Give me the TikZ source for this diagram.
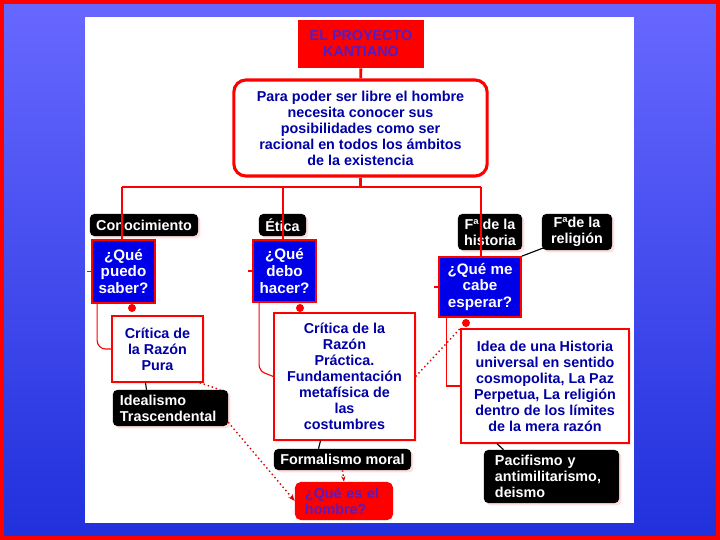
\documentclass[tikz,border=0pt]{standalone}
\usepackage{fontspec}
\setmainfont{Liberation Sans}
\usetikzlibrary{shadows,arrows.meta}

\definecolor{bgtop}{RGB}{104,104,255}
\definecolor{bgbot}{RGB}{32,48,220}
\definecolor{qblue}{RGB}{0,0,232}
\definecolor{kblue}{RGB}{0,0,165}
\definecolor{kpurple}{RGB}{80,30,200}

\begin{document}
\begin{tikzpicture}[x=0.025cm, y=-0.025cm,
  every node/.style={font=\fontsize{10.2}{11.4}\selectfont\bfseries, align=center, inner sep=1pt},
  titlebox/.style={fill=red, text=kpurple, minimum width=3.15cm, minimum height=1.2cm},
  mainbox/.style={draw=red, line width=2.2pt, rounded corners=0.3cm, fill=white, text=kblue,
    minimum width=6.33cm, minimum height=2.4cm},
  tagbox/.style={fill=black, text=white, rounded corners=3pt,
    drop shadow={fill=red!25, shadow xshift=0.06cm, shadow yshift=-0.06cm}},
  askbox/.style={fill=qblue, draw=red, line width=1.2pt, text=white,
    font=\fontsize{10.8}{12}\selectfont\bfseries},
  workbox/.style={fill=white, draw=red, line width=1pt, text=kblue,
    drop shadow={fill=red!20, shadow xshift=0.05cm, shadow yshift=-0.05cm}},
  dot/.style={circle, fill=red, minimum size=0.2cm, inner sep=0pt},
  trunk/.style={red, line width=1.5pt},
  link/.style={red, line width=0.8pt},
  tagline/.style={black, line width=0.8pt},
  dotlink/.style={red!85!black, line width=1pt, dotted}
]

  % background, frame and white sheet
  \shade[top color=bgtop, bottom color=bgbot] (0,0) rectangle (720,540);
  \draw[red, line width=0.1cm] (2,2) rectangle (718,538);
  \fill[white] (85,17) rectangle (634,523);

  % top of the map
  \node[titlebox] (title) at (361,44) {EL PROYECTO\\KANTIANO};
  \node[mainbox] (main) at (360.5,128) {Para poder ser libre el hombre\\necesita conocer sus\\posibilidades como ser\\racional en todos los ámbitos\\de la existencia};

  % left branch
  \node[tagbox, minimum width=2.7cm, minimum height=0.55cm] (conoc) at (144,225) {Conocimiento};
  \node[askbox, minimum width=1.575cm, minimum height=1.575cm] (puedo) at (123.5,271.5) {¿Qué\\puedo\\saber?};
  \node[dot] (dpuedo) at (132,308) {};
  \node[workbox, minimum width=2.275cm, minimum height=1.65cm] (pura) at (157.5,349) {Crítica de\\la Razón\\Pura};
  \node[tagbox, text width=2.525cm, inner xsep=0.175cm, minimum height=0.9cm, align=left] (ideal) at (170.5,408) {Idealismo\\Trascendental};

  % middle branch
  \node[tagbox, minimum width=1.175cm, minimum height=0.55cm] (etica) at (282.5,225) {Ética};
  \node[askbox, minimum width=1.575cm, minimum height=1.55cm] (debo) at (284.5,271) {¿Qué\\debo\\hacer?};
  \node[dot] (ddebo) at (300,308) {};
  \node[workbox, minimum width=3.525cm, minimum height=3.175cm] (practica) at (344.5,376.5) {Crítica de la\\Razón\\Práctica.\\Fundamentación\\metafísica de\\las\\costumbres};
  \node[tagbox, minimum width=3.425cm, minimum height=0.525cm] (formal) at (342.5,459.5) {Formalismo moral};
  \node[fill=red, text=kpurple, rounded corners=4pt, text width=1.95cm, inner xsep=0.25cm,
    minimum height=0.95cm, align=left] (hombre) at (344,501) {¿Qué es el\\hombre?};

  % right branch
  \node[tagbox, minimum width=1.6cm, minimum height=0.9cm] (fhist) at (490,232) {Fª de la\\historia};
  \node[tagbox, minimum width=1.75cm, minimum height=0.9cm] (freli) at (577,232) {Fªde la\\religión};
  \node[askbox, minimum width=2.05cm, minimum height=1.5cm] (esperar) at (480,287) {¿Qué me\\cabe\\esperar?};
  \node[dot] (desperar) at (466,323) {};
  \node[workbox, minimum width=4.2cm, minimum height=2.85cm] (idea) at (545,386) {Idea de una Historia\\universal en sentido\\cosmopolita, La Paz\\Perpetua, La religión\\dentro de los límites\\de la mera razón};
  \node[tagbox, text width=2.825cm, inner xsep=0.275cm, minimum height=1.325cm, align=left] (pacif) at (551.5,476.5) {Pacifismo y\\antimilitarismo,\\deismo};

  % trunk lines from the main box
  \coordinate (busL) at (122,187);
  \coordinate (busM) at (283,187);
  \coordinate (busR) at (481,187);
  \draw[trunk, line width=2pt] (title) -- (main);
  \draw[trunk] (main.south) -- (main.south |- busL);
  \draw[trunk] (busL) -- (busR);
  \draw[trunk] (busL) -- (busL |- puedo.north);
  \draw[trunk] (busM) -- (busM |- debo.north);
  \draw[trunk] (busR) -- (busR |- esperar.north);

  % elbows from the questions to the works
  \draw[link, rounded corners=6pt] ([xshift=0.15cm]puedo.south west) |- (pura.west);
  \draw[link, rounded corners=4pt] ([xshift=0.175cm]debo.south west) -- ++(0,68) -- (practica.west);
  \draw[link] ([xshift=0.2cm]esperar.south west) |- (idea.west);
  \draw[link] (puedo.west) -- ++(-4,0);
  \draw[link] (debo.west) -- ++(-4,0);
  \draw[link] (esperar.west) -- ++(-4,0);

  % short ties to the black labels
  \draw[tagline] ([xshift=-0.3cm]pura.south) -- ([xshift=-0.6cm]ideal.north);
  \draw[tagline] ([xshift=-0.6cm]practica.south) -- ([xshift=-0.6cm]formal.north);
  \draw[tagline] ([xshift=-1.2cm]idea.south) -- ([xshift=-1.2cm]pacif.north);
  \draw[tagline] ([xshift=0.15cm,yshift=0.1cm]freli.south west) -- (esperar.north east);

  % dotted cross links
  \draw[dotlink] ([xshift=-0.1cm]pura.south east) -- ([xshift=-0.2cm]ideal.north east);
  \draw[dotlink, -{Stealth[length=5pt]}] ([yshift=0.1cm]ideal.south east) -- (hombre.west);
  \draw[dotlink, -{Stealth[length=4pt]}] (formal.south) -- (hombre.north);
  \draw[dotlink] (practica.east) -- (idea.north west);

\end{tikzpicture}
\end{document}
